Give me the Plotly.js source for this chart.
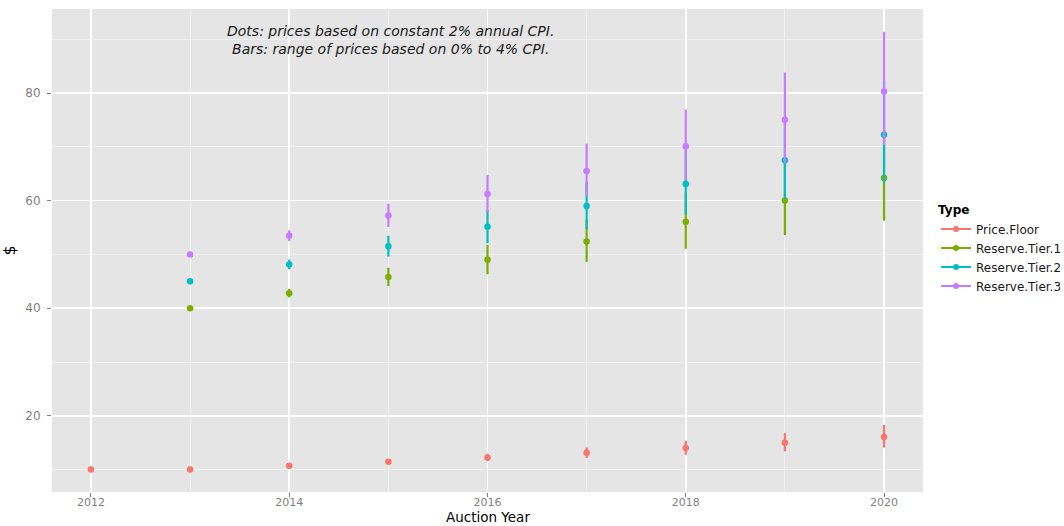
<!DOCTYPE html>
<html>
<head>
<meta charset="utf-8">
<script src="https://cdn.plot.ly/plotly-3.0.1.min.js"></script>
<style>
html,body{margin:0;padding:0;background:#fff;}
#chart{width:1064px;height:526px;}
</style>
</head>
<body>
<div id="chart"></div>
<script>
// ---- data ----
const seriesNames = ["Price.Floor", "Reserve.Tier.1", "Reserve.Tier.2", "Reserve.Tier.3"];
const seriesColors = ["#F8766D", "#7CAE00", "#00BFC4", "#C77CFF"];

const floorYears = [2012, 2013, 2014, 2015, 2016, 2017, 2018, 2019, 2020];
const floorMid  = [10, 10, 10.70, 11.45, 12.25, 13.11, 14.03, 15.01, 16.06];
const floorLow  = [10, 10, 10.50, 11.03, 11.58, 12.16, 12.76, 13.40, 14.07];
const floorHigh = [10, 10, 10.90, 11.88, 12.95, 14.12, 15.39, 16.77, 18.28];

const tierYears = [2013, 2014, 2015, 2016, 2017, 2018, 2019, 2020];
const tier1Mid  = [40, 42.80, 45.80, 49.00, 52.43, 56.10, 60.03, 64.23];
const tier1Low  = [40, 42.00, 44.10, 46.31, 48.62, 51.05, 53.60, 56.28];
const tier1High = [40, 43.60, 47.52, 51.80, 56.46, 61.54, 67.08, 73.12];

const tier2Mid  = [45, 48.15, 51.52, 55.13, 58.99, 63.11, 67.53, 72.26];
const tier2Low  = [45, 47.25, 49.61, 52.09, 54.70, 57.43, 60.30, 63.32];
const tier2High = [45, 49.05, 53.46, 58.28, 63.52, 69.24, 75.47, 82.26];

const tier3Mid  = [50, 53.50, 57.25, 61.25, 65.54, 70.13, 75.04, 80.29];
const tier3Low  = [50, 52.50, 55.13, 57.88, 60.78, 63.81, 67.00, 70.36];
const tier3High = [50, 54.50, 59.41, 64.75, 70.58, 76.93, 83.86, 91.40];

const xTickVals = [2012, 2014, 2016, 2018, 2020];
const yTickVals = [20, 40, 60, 80];

const noteLines = [
  "Dots: prices based on constant 2% annual CPI.",
  "Bars: range of prices based on 0% to 4% CPI."
];
const xTitle = "Auction Year";
const yTitle = "$";
const legendTitle = "Type";

// ---- build traces ----
const groups = [
  {x: floorYears, mid: floorMid, low: floorLow, high: floorHigh},
  {x: tierYears, mid: tier1Mid, low: tier1Low, high: tier1High},
  {x: tierYears, mid: tier2Mid, low: tier2Low, high: tier2High},
  {x: tierYears, mid: tier3Mid, low: tier3Low, high: tier3High}
];

const traces = [];
groups.forEach((g, i) => {
  traces.push({
    type: "scatter",
    mode: "markers",
    x: g.x,
    y: g.mid,
    name: seriesNames[i],
    legendgroup: seriesNames[i],
    showlegend: false,
    marker: {color: seriesColors[i], size: 6.5},
    error_y: {
      type: "data",
      symmetric: false,
      array: g.high.map((h, k) => h - g.mid[k]),
      arrayminus: g.mid.map((m, k) => m - g.low[k]),
      color: seriesColors[i],
      thickness: 2.2,
      width: 0
    },
    hoverinfo: "x+y+name"
  });
});
// legend-only entries (line + dot key like the reference)
groups.forEach((g, i) => {
  traces.push({
    type: "scatter",
    mode: "lines+markers",
    x: [null],
    y: [null],
    name: seriesNames[i],
    legendgroup: seriesNames[i],
    showlegend: true,
    line: {color: seriesColors[i], width: 2},
    marker: {color: seriesColors[i], size: 6}
  });
});

const font = "DejaVu Sans, Liberation Sans, Arial, sans-serif";

const layout = {
  width: 1064,
  height: 526,
  margin: {l: 52, r: 141, t: 9, b: 34, pad: 0, autoexpand: false},
  paper_bgcolor: "#ffffff",
  plot_bgcolor: "#E5E5E5",
  font: {family: font, size: 12, color: "#1a1a1a"},
  showlegend: true,
  legend: {
    x: 1.015, xanchor: "left",
    y: 0.607, yanchor: "top",
    bgcolor: "rgba(0,0,0,0)",
    font: {family: font, size: 12, color: "#1a1a1a"},
    title: {text: "<b>" + legendTitle + "</b>", font: {family: font, size: 12, color: "#000000"}},
    tracegroupgap: 0
  },
  xaxis: {
    range: [2011.607, 2020.393],
    tickmode: "array",
    tickvals: xTickVals,
    ticktext: xTickVals.map(String),
    ticks: "outside",
    ticklen: 4,
    tickcolor: "#7F7F7F",
    tickwidth: 1,
    ticklabelstandoff: -4,
    tickfont: {family: font, size: 11, color: "#7F7F7F"},
    showgrid: true,
    gridcolor: "#FFFFFF",
    gridwidth: 1.6,
    minor: {tickmode: "linear", tick0: 2011, dtick: 1, showgrid: true, gridcolor: "#F2F2F2", gridwidth: 0.8, ticks: ""},
    zeroline: false,
    showline: false,
    automargin: false
  },
  yaxis: {
    range: [5.83, 95.64],
    tickmode: "array",
    tickvals: yTickVals,
    ticktext: yTickVals.map(String),
    ticks: "outside",
    ticklen: 4,
    tickcolor: "#7F7F7F",
    tickwidth: 1,
    ticklabelstandoff: 4,
    tickfont: {family: font, size: 12, color: "#7F7F7F"},
    showgrid: true,
    gridcolor: "#FFFFFF",
    gridwidth: 1.6,
    minor: {tickmode: "linear", tick0: 10, dtick: 10, showgrid: true, gridcolor: "#F2F2F2", gridwidth: 0.8, ticks: ""},
    zeroline: false,
    showline: false,
    automargin: false,
    title: {text: yTitle, font: {family: font, size: 16, color: "#000000"}, standoff: 10}
  },
  annotations: [
    {
      xref: "x", yref: "y", x: 2015.02, y: 89.9,
      text: noteLines.join("<br>"), showarrow: false,
      xanchor: "center", yanchor: "middle", align: "center",
      font: {family: font, size: 14, color: "#1a1a1a", style: "italic"}
    },
    {
      // x-axis title, placed just under the tick labels as in the reference
      xref: "paper", yref: "paper", x: 0.5, y: -0.0695,
      text: xTitle, showarrow: false, borderpad: 0,
      xanchor: "center", yanchor: "bottom",
      font: {family: font, size: 13.5, color: "#000000"}
    }
  ]
};

Plotly.newPlot("chart", traces, layout, {displayModeBar: false, staticPlot: true});
</script>
</body>
</html>
